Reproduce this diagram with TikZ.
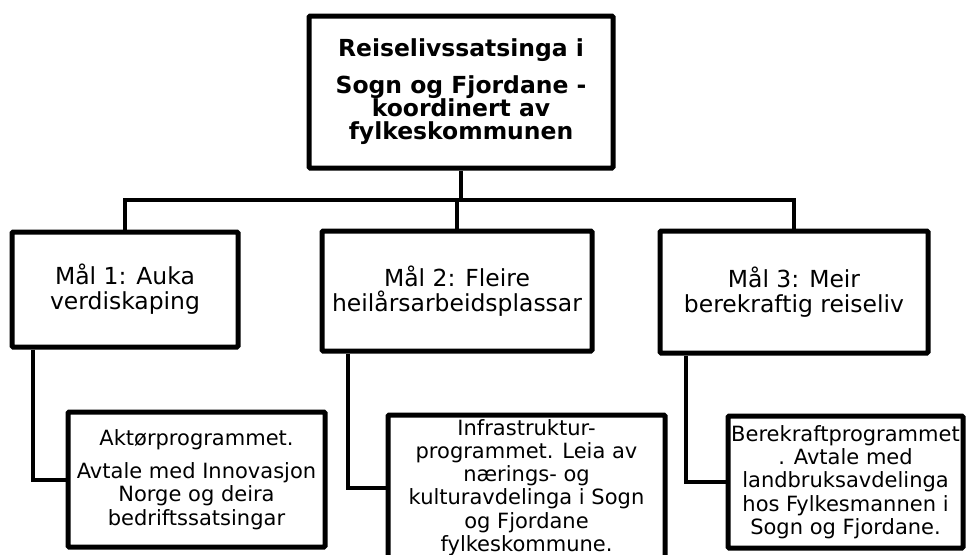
\documentclass[tikz,border=0pt]{standalone}
\usepackage{fontspec}
\setmainfont{DejaVu Sans}
\begin{document}
\begin{tikzpicture}[x=0.75pt,y=-0.75pt,
  box/.style={draw=black, line width=3.75pt, rounded corners=0.8pt, inner sep=0pt, align=center, fill=white},
  link/.style={draw=black, line width=3pt},
  topfont/.style={font=\bfseries\fontsize{17.6}{17.25}\selectfont},
  midfont/.style={font=\fontsize{17.6}{18.75}\selectfont},
  lowfont/.style={font=\fontsize{15.75}{17.4}\selectfont}]
\useasboundingbox (0,0) rectangle (966,554);
\clip (0,0) rectangle (966,554);
\node[box,topfont,minimum width=228pt,minimum height=114pt] (top) at (461,92)
  {Reiselivssatsinga i\\[10.5pt]Sogn og Fjordane -\\koordinert av\\fylkeskommunen};
\node[box,midfont,minimum width=169.5pt,minimum height=86.25pt] (m1) at (125,289.5)
  {Mål 1: Auka\\verdiskaping};
\node[box,midfont,minimum width=202.5pt,minimum height=90pt] (m2) at (457,291)
  {Mål 2: Fleire\\heilårsarbeidsplassar};
\node[box,midfont,minimum width=201pt,minimum height=91.5pt] (m3) at (794,292)
  {Mål 3: Meir\\berekraftig reiseliv};
\node[box,lowfont,minimum width=192.75pt,minimum height=101.25pt] (b1) at (196.5,479.5)
  {Aktørprogrammet.\\[7.5pt]Avtale med Innovasjon\\Norge og deira\\bedriftssatsingar};
\node[box,lowfont,minimum width=207.75pt,minimum height=108.75pt] (b2) at (526.5,487.5)
  {Infrastruktur-\\programmet. Leia av\\nærings- og\\kulturavdelinga i Sogn\\og Fjordane\\fylkeskommune.};
\node[box,lowfont,minimum width=176.25pt,minimum height=99pt] (b3) at (845.5,482)
  {Berekraftprogrammet\\. Avtale med\\landbruksavdelinga\\hos Fylkesmannen i\\Sogn og Fjordane.};
\coordinate (bar) at (461,200);
\draw[link] (top.south) -- (bar);
\draw[link] (m1.north) |- (bar) -| (m3.north);
\draw[link] (m2.north) -- (m2.north |- bar);
\draw[link] ([xshift=17.25pt]m1.south west) |- (b1.west);
\draw[link] ([xshift=21pt]m2.south west) |- (b2.west);
\draw[link] ([xshift=21pt]m3.south west) |- (b3.west);
\end{tikzpicture}
\end{document}
